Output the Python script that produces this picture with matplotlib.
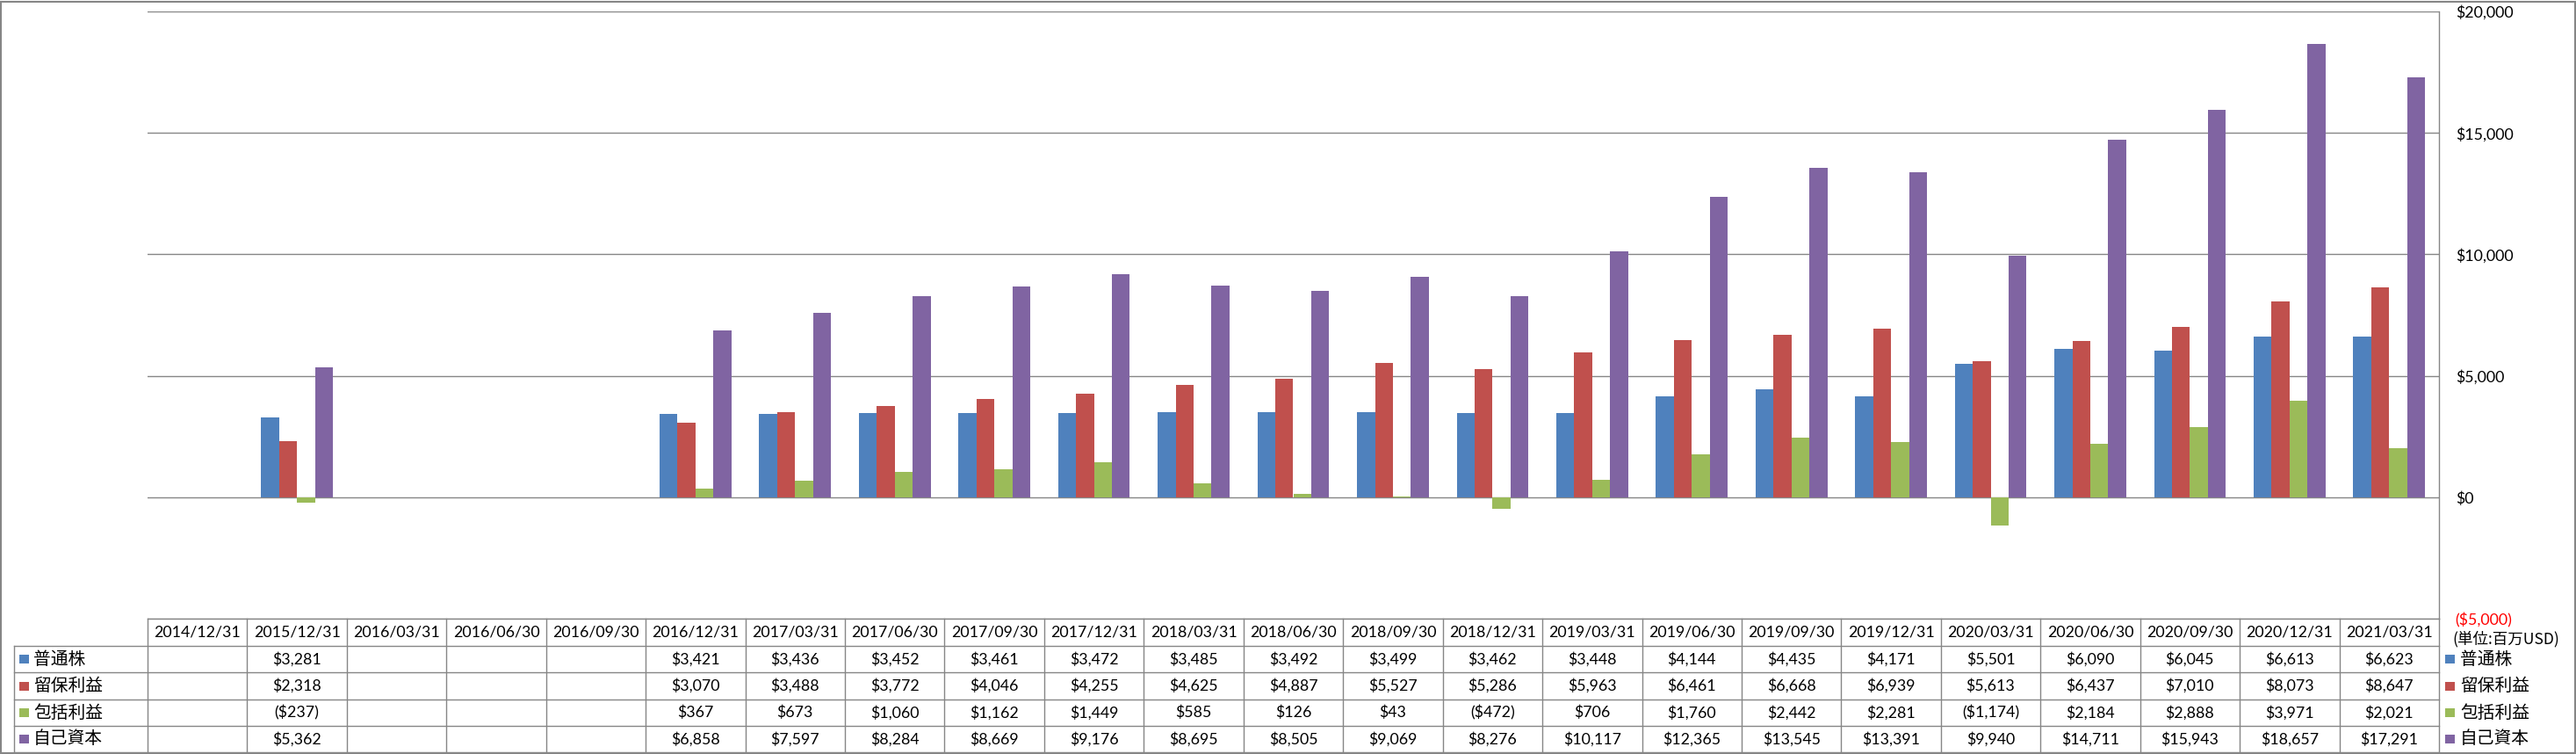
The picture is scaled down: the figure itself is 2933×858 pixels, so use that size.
import numpy as np
import matplotlib
matplotlib.use("Agg")
import matplotlib.pyplot as plt
from matplotlib.patches import Rectangle

plt.rcParams['font.family'] = ['Lato', 'Noto Sans CJK JP', 'DejaVu Sans']

# ---------------- data ----------------
dates = ["2014/12/31", "2015/12/31", "2016/03/31", "2016/06/30", "2016/09/30",
         "2016/12/31", "2017/03/31", "2017/06/30", "2017/09/30", "2017/12/31",
         "2018/03/31", "2018/06/30", "2018/09/30", "2018/12/31", "2019/03/31",
         "2019/06/30", "2019/09/30", "2019/12/31", "2020/03/31", "2020/06/30",
         "2020/09/30", "2020/12/31", "2021/03/31"]
series_names = ["普通株", "留保利益", "包括利益", "自己資本"]
common_stock = [None, 3281, None, None, None, 3421, 3436, 3452, 3461, 3472, 3485, 3492,
                3499, 3462, 3448, 4144, 4435, 4171, 5501, 6090, 6045, 6613, 6623]
retained_earnings = [None, 2318, None, None, None, 3070, 3488, 3772, 4046, 4255, 4625, 4887,
                     5527, 5286, 5963, 6461, 6668, 6939, 5613, 6437, 7010, 8073, 8647]
comprehensive_income = [None, -237, None, None, None, 367, 673, 1060, 1162, 1449, 585, 126,
                        43, -472, 706, 1760, 2442, 2281, -1174, 2184, 2888, 3971, 2021]
equity = [None, 5362, None, None, None, 6858, 7597, 8284, 8669, 9176, 8695, 8505,
          9069, 8276, 10117, 12365, 13545, 13391, 9940, 14711, 15943, 18657, 17291]
y_ticks = [-5000, 0, 5000, 10000, 15000, 20000]
unit_label = "(単位:百万USD)"

series = [common_stock, retained_earnings, comprehensive_income, equity]
colors = ["#4F81BD", "#C0504D", "#9BBB59", "#8064A2"]
grid_col = "#868686"

W, H = 2933, 858
fig = plt.figure(figsize=(W / 100, H / 100), dpi=100)
fig.patch.set_facecolor("white")

# plot area in pixels
PL, PR, PT, PB = 168, 2777, 13, 704
ax = fig.add_axes([PL / W, 1 - PB / H, (PR - PL) / W, (PB - PT) / H])
n = len(dates)
x = np.arange(n)
bw = 0.18
offsets = [-1.5 * bw, -0.5 * bw, 0.5 * bw, 1.5 * bw]
for vals, c, off in zip(series, colors, offsets):
    v = np.array([np.nan if a is None else a for a in vals], dtype=float)
    ax.bar(x + off, v, width=bw, color=c, edgecolor="none", zorder=3)

ax.set_xlim(-0.5, n - 0.5)
ax.set_ylim(y_ticks[0], y_ticks[-1])


def money(v):
    if v < 0:
        return "(${:,.0f})".format(-v)
    return "${:,.0f}".format(v)


ax.set_yticks(y_ticks, labels=[money(t) for t in y_ticks])
ax.yaxis.tick_right()
ax.tick_params(axis="y", length=0, pad=13.5, labelsize=12.8)
for lab, t in zip(ax.get_yticklabels(), y_ticks):
    lab.set_color("#FF0000" if t < 0 else "black")
ax.set_xticks([])
ax.yaxis.grid(True, color=grid_col, lw=1.0)
ax.set_axisbelow(True)
for s in ["left", "top", "bottom"]:
    ax.spines[s].set_visible(False)
ax.spines["right"].set_color(grid_col)
ax.spines["right"].set_linewidth(1.0)

# ---------------- data table overlay ----------------
ov = fig.add_axes([0, 0, 1, 1], zorder=5)
ov.set_xlim(0, W)
ov.set_ylim(H, 0)
ov.axis("off")
ov.patch.set_alpha(0)


def to_px(xd):
    disp = ax.transData.transform((xd, 0))
    return disp[0] * W / fig.bbox.width


bounds = [to_px(i - 0.5) for i in range(n + 1)]
centers = [to_px(i) for i in range(n)]
rows_y = [704, 735, 765, 796, 826, 856]
LX = 16

lw = 1.0
# horizontal lines
ov.plot([bounds[0], bounds[-1]], [rows_y[0]] * 2, color=grid_col, lw=lw)
for yv in rows_y[1:]:
    ov.plot([LX, bounds[-1]], [yv] * 2, color=grid_col, lw=lw)
# vertical lines
ov.plot([LX, LX], [rows_y[1], rows_y[-1]], color=grid_col, lw=lw)
for bx in bounds:
    ov.plot([bx, bx], [rows_y[0], rows_y[-1]], color=grid_col, lw=lw)

num_fs = 12.8
cjk_fs = 14.2
for i, d in enumerate(dates):
    ov.text(centers[i], (rows_y[0] + rows_y[1]) / 2, d, ha="center", va="center",
            fontsize=num_fs, color="black")
for r, (vals, c, name) in enumerate(zip(series, colors, series_names)):
    yc = (rows_y[r + 1] + rows_y[r + 2]) / 2
    for i, v in enumerate(vals):
        if v is not None:
            ov.text(centers[i], yc, money(v), ha="center", va="center",
                    fontsize=num_fs, color="black")
    # left legend key
    ov.add_patch(Rectangle((22, yc - 5), 11, 10, facecolor=c, edgecolor="none"))
    ov.text(38, yc, name, ha="left", va="center", fontsize=cjk_fs,
            family=["Noto Sans CJK JP", "DejaVu Sans"], color="black")
    # right legend key
    ov.add_patch(Rectangle((2784, yc - 5), 11, 10, facecolor=c, edgecolor="none"))
    ov.text(2801, yc, name, ha="left", va="center", fontsize=cjk_fs,
            family=["Noto Sans CJK JP", "DejaVu Sans"], color="black")

ov.text(2792, 727, unit_label, ha="left", va="center", fontsize=12.6,
        family=["Noto Sans CJK JP", "DejaVu Sans"], color="black")

# outer chart border
ov.add_patch(Rectangle((1, 1.5), W - 2.5, H - 3, facecolor="none", edgecolor=grid_col, lw=1.5))

fig.savefig("out.png", dpi=100, facecolor="white")
